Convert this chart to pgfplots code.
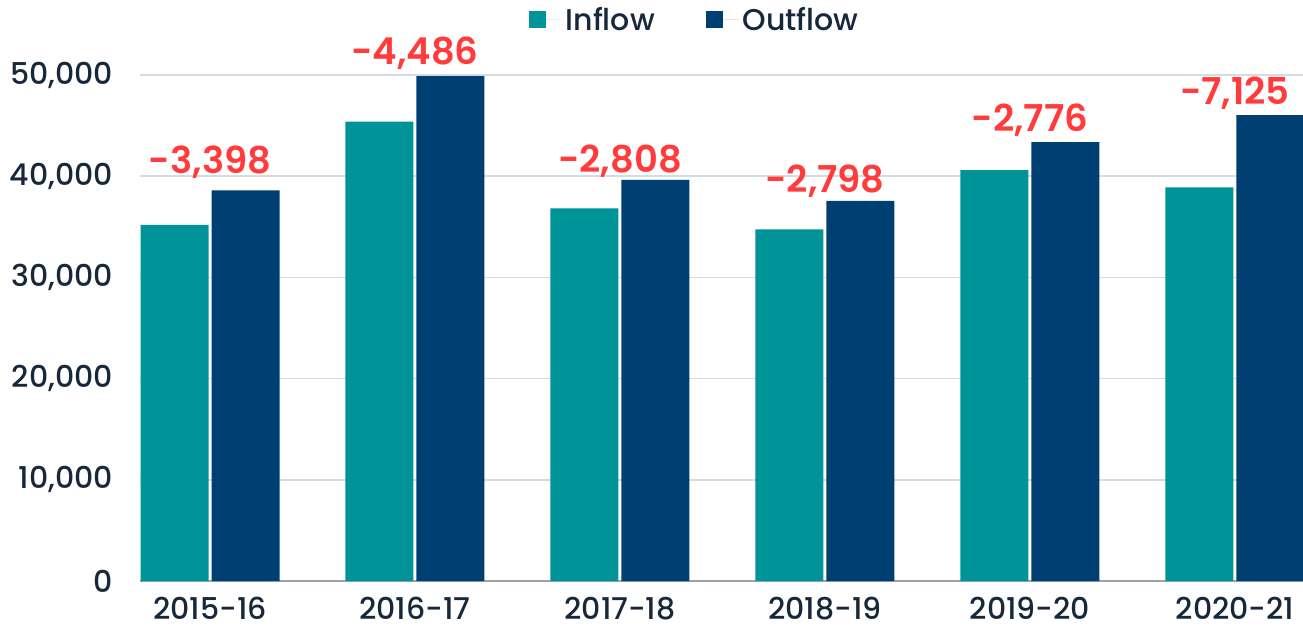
\documentclass[border=0pt]{standalone}
\usepackage{fontspec}
\setmainfont{Poppins}[UprightFont=* Medium, BoldFont=* SemiBold]
\usepackage{pgfplots}
\pgfplotsset{compat=1.18}
\usetikzlibrary{calc}
\definecolor{teal1}{HTML}{009499}
\definecolor{navy1}{HTML}{003F72}
\definecolor{txt}{HTML}{17283A}
\definecolor{redl}{HTML}{FF3B3B}
\definecolor{grid1}{HTML}{D5DBE1}
\definecolor{base1}{HTML}{9AA3AD}
\pgfplotsset{mylegend/.style={legend image code/.code={\fill[#1,draw=none] (0pt,-4.25pt) rectangle (8.5pt,4.25pt); \path (8.5pt,0pt) -- (16.5pt,0pt);}}}
\begin{document}
\begin{tikzpicture}
\begin{axis}[
  scale only axis, width=581.5pt, height=253pt,
  xmin=-0.3415, xmax=5.332, ymin=0, ymax=50000,
  clip=false,
  axis line style={draw=none},
  tick style={draw=none},
  ymajorgrids, grid style={grid1, line width=0.75pt},
  ytick={0,10000,...,50000},
  extra y ticks={0}, extra y tick labels={},
  extra y tick style={grid style={base1, line width=0.6pt}},
  scaled y ticks=false,
  /pgf/number format/1000 sep={,},
  /pgf/number format/assume math mode=true,
  yticklabel style={font=\fontsize{15}{15}\selectfont, text=txt, xshift=-10pt},
  xtick={0,1,2,3,4,5},
  xticklabels={2015-16,2016-17,2017-18,2018-19,2019-20,2020-21},
  xticklabel style={font=\fontsize{15}{15}\selectfont, text=txt, yshift=-4.5pt},
  legend style={at={(0.4778,1.1087)}, anchor=center, draw=none, fill=none,
    legend columns=2, font=\fontsize{15}{15}\selectfont, text=txt,
    /tikz/every even column/.append style={column sep=23.5pt}},
]
\addplot[ybar, bar width=34pt, bar shift=-17.75pt, fill=teal1, draw=none, mylegend]
  coordinates {(0,35200) (1,45400) (2,36820) (3,34752) (4,40600) (5,38900)};
\addlegendentry{Inflow}
\addplot[ybar, bar width=34pt, bar shift=17.75pt, fill=navy1, draw=none, mylegend]
  coordinates {(0,38598) (1,49886) (2,39628) (3,37550) (4,43376) (5,46025)};
\addlegendentry{Outflow}
\addplot[draw=none, mark=none, forget plot, nodes near coords, point meta=explicit symbolic,
  every node near coord/.append style={anchor=base, inner sep=0pt,
    font=\bfseries\fontsize{18.5}{18.5}\selectfont, text=redl}]
  table[meta=lab] {
x y lab
0 40316 -3,398
1 50988 -4,486
2 40346 -2,808
3 38370 -2,798
4 44368 -2,776
5 47134 -7,125
};
\coordinate (bl) at (rel axis cs:0,0);
\coordinate (tr) at (rel axis cs:1,1);
\end{axis}
\pgfresetboundingbox
\path[use as bounding box] ($(bl)+(-70pt,-25.5pt)$) rectangle ($(tr)+(0pt,37.5pt)$);
\end{tikzpicture}
\end{document}
